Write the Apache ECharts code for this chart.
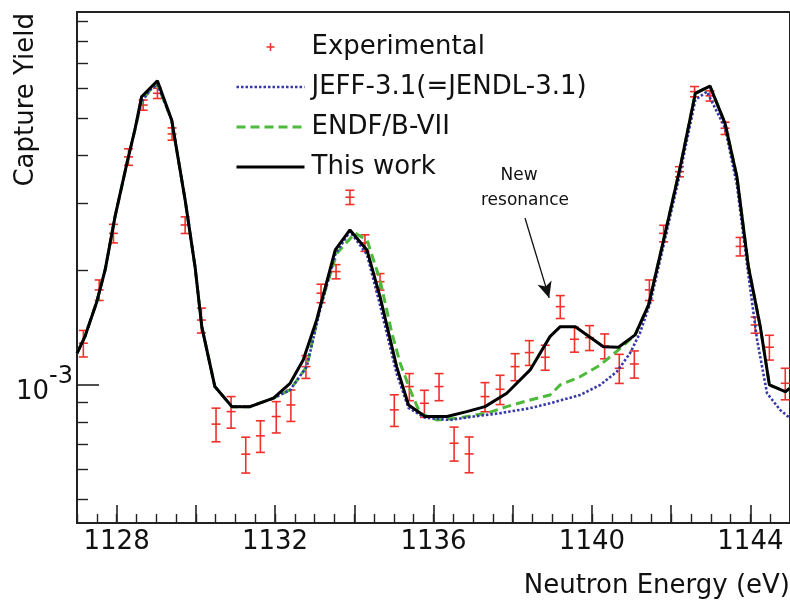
<!DOCTYPE html>
<html>
<head>
<meta charset="utf-8">
<script src="https://cdn.jsdelivr.net/npm/echarts@6/dist/echarts.min.js"></script>
<style>
  html, body { margin: 0; padding: 0; background: #fff; }
  #chart { width: 790px; height: 602px; }
</style>
</head>
<body>
<div id="chart"></div>
<script>
// yields are given in units of 1e-3
const expEnergy = [1127.16, 1127.56, 1127.92, 1128.30, 1128.67, 1129.03, 1129.40, 1129.73, 1130.14, 1130.51, 1130.89, 1131.26, 1131.63, 1132.03, 1132.40, 1132.78, 1133.16, 1133.54, 1133.89, 1134.27, 1134.65, 1135.01, 1135.39, 1135.77, 1136.14, 1136.52, 1136.90, 1137.30, 1137.68, 1138.06, 1138.42, 1138.82, 1139.20, 1139.56, 1139.94, 1140.32, 1140.69, 1141.07, 1141.45, 1141.81, 1142.21, 1142.59, 1142.98, 1143.36, 1143.74, 1144.12, 1144.48, 1144.88]
const expYield = [1.287, 1.776, 2.50, 3.97, 5.43, 5.83, 4.56, 2.63, 1.48, 0.789, 0.851, 0.658, 0.735, 0.826, 0.886, 1.117, 1.741, 1.984, 3.11, 2.36, 1.867, 0.860, 0.990, 0.895, 0.990, 0.703, 0.659, 0.932, 0.974, 1.117, 1.216, 1.182, 1.605, 1.318, 1.331, 1.266, 1.106, 1.135, 1.776, 2.50, 3.63, 5.89, 5.74, 4.72, 2.31, 1.437, 1.256, 1.010]
const expError = [0.103, 0.110, 0.140, 0.198, 0.168, 0.181, 0.169, 0.132, 0.111, 0.080, 0.081, 0.071, 0.070, 0.078, 0.084, 0.077, 0.097, 0.085, 0.134, 0.118, 0.093, 0.082, 0.081, 0.073, 0.081, 0.072, 0.071, 0.082, 0.086, 0.091, 0.091, 0.089, 0.111, 0.099, 0.100, 0.095, 0.097, 0.093, 0.110, 0.125, 0.111, 0.183, 0.178, 0.175, 0.129, 0.070, 0.094, 0.096]

const jeffEnergy = [1127.0, 1127.20, 1127.50, 1127.71, 1127.96, 1128.26, 1128.46, 1128.63, 1128.85, 1129.03, 1129.39, 1129.73, 1129.98, 1130.15, 1130.48, 1130.91, 1131.37, 1131.96, 1132.38, 1132.80, 1133.14, 1133.52, 1133.89, 1134.32, 1134.65, 1135.07, 1135.37, 1135.79, 1136.42, 1137.01, 1137.68, 1138.44, 1138.94, 1139.70, 1140.21, 1140.63, 1140.96, 1141.21, 1141.47, 1141.81, 1142.23, 1142.61, 1142.90, 1143.36, 1143.66, 1143.95, 1144.17, 1144.42, 1144.75, 1145.0]
const jeffYield = [1.211, 1.339, 1.654, 2.004, 2.765, 3.82, 4.67, 5.55, 5.95, 6.15, 4.96, 3.06, 2.044, 1.422, 0.990, 0.877, 0.877, 0.923, 0.970, 1.117, 1.58, 2.20, 2.53, 2.20, 1.62, 1.07, 0.870, 0.820, 0.809, 0.826, 0.843, 0.869, 0.895, 0.941, 1.000, 1.084, 1.211, 1.367, 1.639, 2.33, 3.62, 5.60, 5.89, 4.73, 3.35, 1.944, 1.312, 0.951, 0.860, 0.818]

const endfEnergy = [1127.0, 1127.20, 1127.50, 1127.71, 1127.96, 1128.26, 1128.46, 1128.63, 1128.85, 1129.03, 1129.39, 1129.73, 1129.98, 1130.15, 1130.48, 1130.91, 1131.37, 1131.96, 1132.38, 1132.80, 1133.14, 1133.56, 1134.02, 1134.32, 1134.65, 1134.95, 1135.16, 1135.41, 1135.66, 1136.08, 1136.59, 1137.35, 1137.85, 1138.44, 1138.94, 1139.20, 1139.70, 1140.21, 1140.67, 1141.09, 1141.43, 1141.81, 1142.23, 1142.61, 1142.98, 1143.36, 1143.66, 1143.95, 1144.25, 1144.48, 1144.88, 1145.0]
const endfYield = [1.211, 1.339, 1.654, 2.004, 2.765, 3.82, 4.67, 5.55, 5.95, 6.15, 4.96, 3.06, 2.044, 1.422, 0.990, 0.877, 0.877, 0.923, 0.970, 1.117, 1.605, 2.217, 2.502, 2.403, 1.886, 1.367, 1.140, 0.970, 0.843, 0.809, 0.818, 0.843, 0.877, 0.913, 0.941, 1.000, 1.051, 1.128, 1.236, 1.353, 1.622, 2.403, 3.74, 5.83, 6.09, 4.86, 3.52, 2.044, 1.422, 1.000, 0.960, 0.980]

const workEnergy = [1127.0, 1127.20, 1127.50, 1127.71, 1127.96, 1128.26, 1128.46, 1128.63, 1129.03, 1129.39, 1129.73, 1129.98, 1130.15, 1130.48, 1130.91, 1131.37, 1131.96, 1132.38, 1132.71, 1133.05, 1133.52, 1133.89, 1134.32, 1134.65, 1135.07, 1135.37, 1135.79, 1136.34, 1136.84, 1137.30, 1137.85, 1138.44, 1138.94, 1139.20, 1139.58, 1140.29, 1140.67, 1141.09, 1141.43, 1141.81, 1142.23, 1142.61, 1142.98, 1143.36, 1143.66, 1143.95, 1144.25, 1144.48, 1144.88, 1145.0]
const workYield = [1.211, 1.339, 1.654, 2.004, 2.765, 3.82, 4.67, 5.71, 6.29, 4.96, 3.06, 2.044, 1.422, 0.990, 0.877, 0.877, 0.923, 1.010, 1.163, 1.481, 2.262, 2.552, 2.262, 1.705, 1.117, 0.886, 0.826, 0.826, 0.851, 0.877, 0.951, 1.095, 1.339, 1.422, 1.422, 1.260, 1.256, 1.353, 1.622, 2.403, 3.74, 5.83, 6.09, 4.86, 3.52, 2.044, 1.422, 1.000, 0.960, 0.980]

// axis ticks
const xLabelTicks = [1128, 1132, 1136, 1140, 1144]
const xMajorTicks = [1128, 1130, 1132, 1134, 1136, 1138, 1140, 1142, 1144]
const yMinorTicks = [5e-4, 6e-4, 7e-4, 8e-4, 9e-4, 2e-3, 3e-3, 4e-3, 5e-3, 6e-3, 7e-3, 8e-3, 9e-3]
const yLabelTicks = [1e-3]

// arrow pointing at the new resonance
const arrowFrom = [1138.31, 2.743]
const arrowTo = [1138.92, 1.692]

const RED = '#f0302a'
const BLUE = '#3838a8'
const GREEN = '#4dba3c'
const FONT = 'DejaVu Sans'
const U = 1e-3

const pairs = (xs, ys) => xs.map((x, i) => [x, ys[i] * U])

const expData = expEnergy.map((e, i) => [e, expYield[i] * U, (expYield[i] - expError[i]) * U, (expYield[i] + expError[i]) * U])

function renderErrorBar(params, api) {
  const mid = api.coord([api.value(0), api.value(1)])
  const lo = api.coord([api.value(0), api.value(2)])
  const hi = api.coord([api.value(0), api.value(3)])
  const w = 4.5
  const style = { stroke: RED, lineWidth: 1.6 }
  return {
    type: 'group',
    children: [
      { type: 'line', shape: { x1: mid[0], y1: hi[1], x2: mid[0], y2: lo[1] }, style },
      { type: 'line', shape: { x1: mid[0] - w, y1: hi[1], x2: mid[0] + w, y2: hi[1] }, style },
      { type: 'line', shape: { x1: mid[0] - w, y1: lo[1], x2: mid[0] + w, y2: lo[1] }, style },
      { type: 'line', shape: { x1: mid[0] - w, y1: mid[1], x2: mid[0] + w, y2: mid[1] }, style }
    ]
  }
}

// legend icons: an invisible 68x20 frame so the marks keep their size
const ICON_PLUS = 'path://M0,0L0,0M68,20L68,20M30,10L38,10M34,6L34,14'
const ICON_LINE = 'path://M0,0L0,0M68,20L68,20M0,10L68,10'

const chart = echarts.init(document.getElementById('chart'), null, { renderer: 'canvas' })

const option = {
  animation: false,
  backgroundColor: '#fff',
  textStyle: { fontFamily: FONT },
  grid: {
    left: 77, right: 0, top: 12, bottom: 79,
    containLabel: false, outerBoundsMode: 'none',
    show: true, borderColor: '#222', borderWidth: 2
  },
  legend: {
    orient: 'vertical',
    left: 230,
    top: 29,
    itemWidth: 68,
    itemHeight: 20,
    itemGap: 14,
    selectedMode: false,
    textStyle: { fontFamily: FONT, fontSize: 26, color: '#111', lineHeight: 26, padding: [0, 0, 0, 2] },
    data: [
      { name: 'Experimental', icon: ICON_PLUS, itemStyle: { color: 'transparent', borderColor: RED, borderWidth: 1.5 } },
      { name: 'JEFF-3.1(=JENDL-3.1)', icon: ICON_LINE, itemStyle: { color: 'transparent', borderColor: BLUE, borderWidth: 2.6, borderType: [2.5, 2] } },
      { name: 'ENDF/B-VII', icon: ICON_LINE, itemStyle: { color: 'transparent', borderColor: GREEN, borderWidth: 3, borderType: [9, 5] } },
      { name: 'This work', icon: ICON_LINE, itemStyle: { color: 'transparent', borderColor: '#000', borderWidth: 3 } }
    ]
  },
  xAxis: [
    {
      type: 'value',
      min: 1127,
      max: 1145,
      splitLine: { show: false },
      axisLine: { lineStyle: { color: '#222', width: 2 } },
      axisTick: { inside: true, length: 18, customValues: xMajorTicks, lineStyle: { color: '#222', width: 1.6 } },
      axisLabel: {
        customValues: xLabelTicks,
        formatter: v => String(v),
        fontFamily: FONT, fontSize: 26, color: '#111', margin: 6
      }
    },
    {
      type: 'value',
      position: 'bottom',
      min: 1127,
      max: 1145,
      interval: 0.5,
      splitLine: { show: false },
      axisLine: { show: false },
      axisTick: { inside: true, length: 9, lineStyle: { color: '#222', width: 1.4 } },
      axisLabel: { show: false }
    }
  ],
  yAxis: [
    {
      type: 'log',
      position: 'left',
      min: 4.34e-4,
      max: 9.53e-3,
      splitLine: { show: false },
      axisLine: { show: true, lineStyle: { color: '#222', width: 2 } },
      axisTick: { inside: true, length: 22, customValues: yLabelTicks, lineStyle: { color: '#222', width: 1.6 } },
      axisLabel: {
        customValues: yLabelTicks,
        margin: 4,
        formatter: () => '{b|10}{s|-3}',
        rich: {
          b: { fontFamily: FONT, fontSize: 26, color: '#111', padding: [14, 0, 0, 0], verticalAlign: 'bottom' },
          s: { fontFamily: FONT, fontSize: 24, color: '#111', padding: [0, 0, 12, 0], verticalAlign: 'top' }
        }
      }
    },
    {
      type: 'log',
      position: 'left',
      min: 4.34e-4,
      max: 9.53e-3,
      splitLine: { show: false },
      axisLine: { show: false },
      axisTick: { inside: true, length: 11, customValues: yMinorTicks, lineStyle: { color: '#222', width: 1.4 } },
      axisLabel: { show: false }
    }
  ],
  series: [
    {
      name: 'Experimental',
      type: 'custom',
      renderItem: renderErrorBar,
      itemStyle: { color: RED },
      encode: { x: 0, y: [1, 2, 3] },
      data: expData,
      z: 2
    },
    {
      name: 'ENDF/B-VII',
      type: 'line',
      symbol: 'none',
      color: GREEN,
      lineStyle: { color: GREEN, width: 3, type: [9, 5] },
      data: pairs(endfEnergy, endfYield),
      z: 3
    },
    {
      name: 'JEFF-3.1(=JENDL-3.1)',
      type: 'line',
      symbol: 'none',
      color: BLUE,
      lineStyle: { color: BLUE, width: 2.6, type: [2.5, 2] },
      data: pairs(jeffEnergy, jeffYield),
      z: 4
    },
    {
      name: 'This work',
      type: 'line',
      symbol: 'none',
      color: '#000',
      lineStyle: { color: '#000', width: 3 },
      data: pairs(workEnergy, workYield),
      z: 5,
      markLine: {
        silent: true,
        symbol: ['none', 'arrow'],
        symbolSize: [11, 16],
        label: { show: false },
        lineStyle: { color: '#111', width: 1.3, type: 'solid' },
        data: [[
          { coord: [arrowFrom[0], arrowFrom[1] * U] },
          { coord: [arrowTo[0], arrowTo[1] * U] }
        ]]
      }
    }
  ],
  graphic: [
    {
      type: 'text',
      x: 26, y: 13,
      rotation: Math.PI / 2,
      style: { text: 'Capture Yield', fontFamily: FONT, fontSize: 26, fill: '#111', align: 'right', verticalAlign: 'middle' }
    },
    {
      type: 'text',
      x: 790, y: 586,
      style: { text: 'Neutron Energy (eV)', fontFamily: FONT, fontSize: 26, fill: '#111', align: 'right', verticalAlign: 'middle' }
    },
    {
      type: 'text',
      x: 519, y: 176,
      style: { text: 'New', fontFamily: FONT, fontSize: 17, fill: '#111', align: 'center', verticalAlign: 'middle' }
    },
    {
      type: 'text',
      x: 525, y: 201,
      style: { text: 'resonance', fontFamily: FONT, fontSize: 17, fill: '#111', align: 'center', verticalAlign: 'middle' }
    }
  ]
}

chart.setOption(option)
</script>
</body>
</html>
